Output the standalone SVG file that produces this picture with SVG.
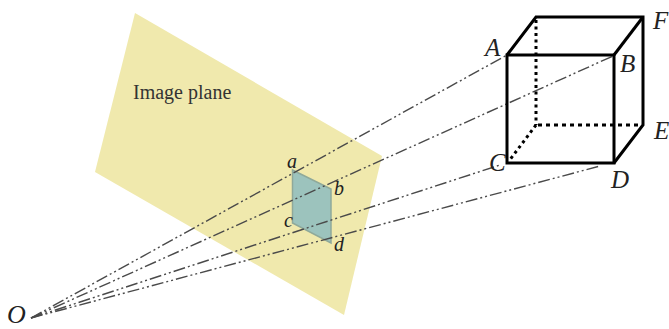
<svg xmlns="http://www.w3.org/2000/svg" width="669" height="329" viewBox="0 0 669 329">
<style>
.ray{fill:none;stroke:#4a4a4a;stroke-width:1.4;stroke-dasharray:12 3 2 3 2 3}
.edge{fill:none;stroke:#000;stroke-width:3;stroke-linejoin:miter}
.dash{fill:none;stroke:#000;stroke-width:3;stroke-dasharray:4 4}
.dot{fill:none;stroke:#000;stroke-width:3;stroke-dasharray:3 3.5}
.big{font-family:"Liberation Serif",serif;font-style:italic;font-size:25px;fill:#222}
.small{font-family:"Liberation Serif",serif;font-style:italic;font-size:20px;fill:#222}
.title{font-family:"Liberation Serif",serif;font-size:20px;fill:#333}
</style>
<rect width="669" height="329" fill="#fff"/>
<g id="image-plane">
<polygon points="135,13 382,156 344,315 95,172" fill="#f0e9ad"/>
<text class="title" x="133" y="99">Image plane</text>
</g>
<g id="image-quad">
<polygon points="292.500,170 331,189 331,243 292.500,223" fill="#9cc3bd" stroke="#8fa99a" stroke-width="1.5"/>
</g>
<g id="connectors">
<path class="ray" d="M31,318 L507,55"/>
<path class="ray" d="M31,318 L613,56"/>
<path class="ray" d="M31,318 L500,165"/>
<path class="ray" d="M31,318 L600,166"/>
</g>
<g id="cube">
<path class="dot" d="M536,20 V125"/>
<path class="dash" d="M538,125 H643"/>
<path class="dot" d="M536,125 L509,161"/>
<path class="edge" d="M507,55 H614 V163 H507 Z"/>
<path class="edge" d="M507,55 L536,17 H643 V125 L614,163"/>
<path class="edge" d="M614,55 L643,17"/>
</g>
<g id="label-O"><text class="big" x="7" y="323" style="font-size:26px">O</text></g>
<g id="label-A"><text class="big" x="485" y="56">A</text></g>
<g id="label-B"><text class="big" x="620" y="72">B</text></g>
<g id="label-C"><text class="big" x="489" y="171">C</text></g>
<g id="label-D"><text class="big" x="611" y="188">D</text></g>
<g id="label-E"><text class="big" x="654" y="139">E</text></g>
<g id="label-F"><text class="big" x="653" y="29">F</text></g>
<g id="label-a"><text class="small" x="287" y="168">a</text></g>
<g id="label-b"><text class="small" x="334" y="195">b</text></g>
<g id="label-c"><text class="small" x="284" y="227">c</text></g>
<g id="label-d"><text class="small" x="334" y="251">d</text></g>
</svg>
